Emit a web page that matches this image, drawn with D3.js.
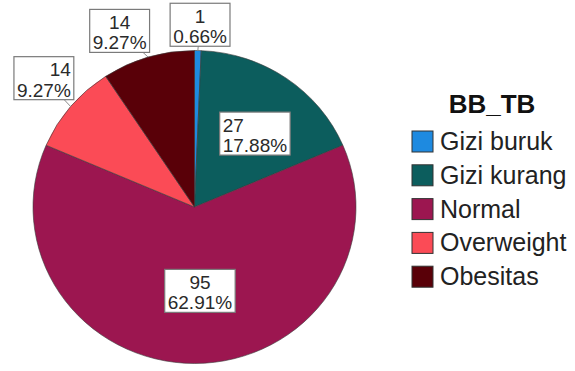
<html>
<head>
<style>
  body { margin: 0; background: #fff; }
  text { font-family: "Liberation Sans", Arial, sans-serif; }
</style>
</head>
<body>
<svg id="mainSvg" width="575" height="371"></svg>
<script src="https://d3js.org/d3.v7.min.js"></script>
<script>
  // data
  const categories = ['Gizi buruk', 'Gizi kurang', 'Normal', 'Overweight', 'Obesitas']
  const counts = [1, 27, 95, 14, 14]
  const percents = ['0.66%', '17.88%', '62.91%', '9.27%', '9.27%']
  const colors = ['#1e8ae0', '#0c5d5d', '#9c1650', '#fb4b56', '#590008']
  const legendTitle = 'BB_TB'

  // label placement: radius factor, angle shift (deg), text alignment
  const labelPos = [
    {f: 1.165, da: 0.5, align: 'middle'},
    {f: 0.60, da: 4, align: 'start'},
    {f: 0.537, da: -3.6, align: 'middle'},
    {f: 1.244, da: 1.5, align: 'end'},
    {f: 1.217, da: -5.7, align: 'middle'}
  ]

  const svg = d3.select('#mainSvg')
  svg.append('rect').attr('width', 575).attr('height', 371).attr('fill', '#fff')

  const cx = 194.5, cy = 207, r = 161.5, sy = 0.969
  const pieData = categories.map((c, i) => ({name: c, value: counts[i], i: i}))
  const pie = d3.pie().value(d => d.value).sort(null)
  const arcs = pie(pieData)
  const arc = d3.arc().innerRadius(0).outerRadius(r)

  const g = svg.append('g').attr('transform', `translate(${cx},${cy}) scale(1,${sy})`)
  g.selectAll('path').data(arcs).enter().append('path')
    .attr('d', arc)
    .attr('fill', d => colors[d.data.i])
    .attr('stroke', '#3a3a3a').attr('stroke-width', 0.6)
    .attr('vector-effect', 'non-scaling-stroke')

  // labels
  const lg = svg.append('g').attr('transform', `translate(${cx},${cy})`)
  arcs.forEach(d => {
    const p = labelPos[d.data.i]
    const a = (d.startAngle + d.endAngle) / 2 + p.da * Math.PI / 180
    const lx = r * p.f * Math.sin(a), ly = -r * p.f * Math.cos(a) * sy
    const lab = lg.append('g')
    if (p.f > 1) {
      const ma = (d.startAngle + d.endAngle) / 2
      lab.append('line').attr('x1', lx).attr('y1', ly)
        .attr('x2', r * Math.sin(ma)).attr('y2', -r * Math.cos(ma) * sy)
        .attr('stroke', '#8a8a8a').attr('stroke-width', 1)
    }
    const box = lab.append('rect').attr('fill', '#fff').attr('stroke', '#7a7a7a').attr('stroke-width', 1.2)
    const t = lab.append('text').attr('font-size', 19).attr('fill', '#2a2a2a').attr('text-anchor', p.align)
    const lines = [String(counts[d.data.i]), percents[d.data.i]]
    // measure widest line to get box size
    t.selectAll('tspan').data(lines).enter().append('tspan').text(s => s)
    const w = d3.max(t.selectAll('tspan').nodes(), n => n.getComputedTextLength())
    const bw = w + 6, bh = 43
    const tx = p.align === 'middle' ? lx : p.align === 'start' ? lx - w / 2 : lx + w / 2
    t.selectAll('tspan').attr('x', tx).attr('y', (s, k) => ly - 2 + k * 20.5)
    box.attr('x', lx - bw / 2).attr('y', ly - bh / 2).attr('width', bw).attr('height', bh)
  })

  // legend
  const leg = svg.append('g')
  leg.append('text').attr('x', 492).attr('y', 113).attr('text-anchor', 'middle')
    .attr('font-size', 26).attr('font-weight', 'bold').attr('fill', '#111').text(legendTitle)
  const rows = leg.selectAll('.row').data(categories).enter().append('g').classed('row', true)
    .attr('transform', (d, i) => `translate(412, ${131 + i * 33.8})`)
  rows.append('rect').attr('width', 21).attr('height', 21)
    .attr('fill', (d, i) => colors[i]).attr('stroke', '#333').attr('stroke-width', 1)
  rows.append('text').attr('x', 28).attr('y', 19).attr('font-size', 25).attr('fill', '#222').text(d => d)
</script>
</body>
</html>
